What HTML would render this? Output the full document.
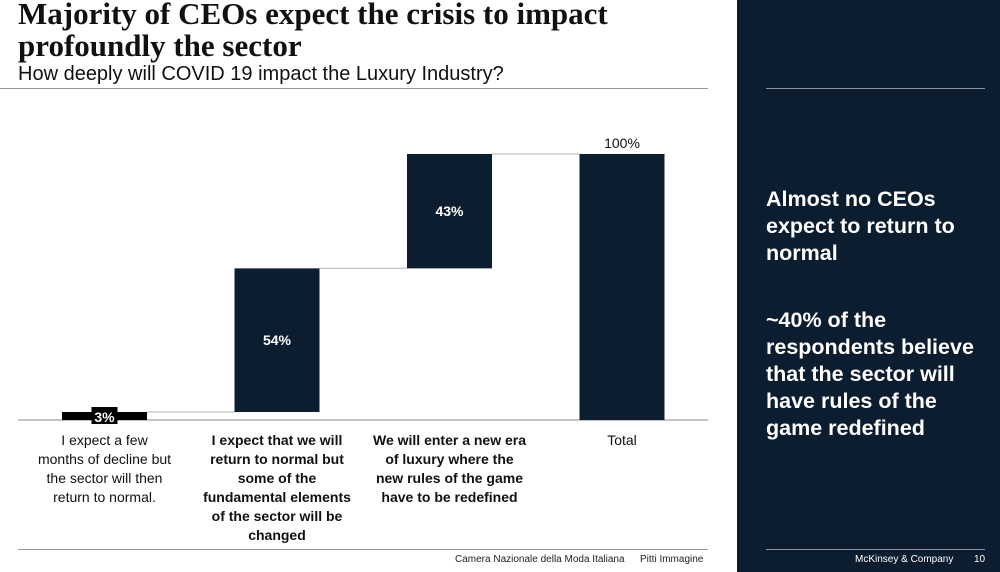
<!DOCTYPE html>
<html><head><meta charset="utf-8"><style>
body{margin:0;width:1000px;height:572px;overflow:hidden;background:#fff;font-family:"Liberation Sans",sans-serif;position:relative}
.t{position:absolute}
</style></head><body>
<div class="t" style="left:18px;top:-2px;font:bold 31px/32px 'Liberation Serif',serif;color:#111;white-space:nowrap">Majority of CEOs expect the crisis to impact<br>profoundly the sector</div>
<div class="t" style="left:18px;top:63px;font-size:20px;color:#111;white-space:nowrap">How deeply will COVID 19 impact the Luxury Industry?</div>
<div class="t" style="left:0;top:88px;width:708px;height:1px;background:#999"></div>
<svg class="t" style="left:0;top:0" width="737" height="572" id="chart"></svg>
<div class="t" style="left:18px;top:549px;width:690px;height:1px;background:#999"></div>
<div class="t" style="left:455px;top:554px;font-size:10px;color:#222">Camera Nazionale della Moda Italiana</div>
<div class="t" style="left:640px;top:554px;font-size:10px;color:#222">Pitti Immagine</div>
<div class="t" style="left:737px;top:0;width:263px;height:572px;background:#0c1d2f">
<div class="t" style="left:29px;top:88px;width:219px;height:1px;background:#8a93a0"></div>
<div class="t" style="left:29px;top:186px;width:212px;font:bold 21.5px/27px 'Liberation Sans',sans-serif;color:#fff">Almost no CEOs expect to return to normal</div>
<div class="t" style="left:29px;top:307px;width:218px;font:bold 21.5px/27px 'Liberation Sans',sans-serif;color:#fff">~40% of the respondents believe that the sector will have rules of the game redefined</div>
<div class="t" style="left:29px;top:549px;width:219px;height:1px;background:#8a93a0"></div>
<div class="t" style="left:118px;top:554px;font-size:10px;color:#fff">McKinsey &amp; Company</div>
<div class="t" style="left:237px;top:554px;font-size:10px;color:#fff">10</div>
</div>
<script>
const categories=["I expect a few months of decline but the sector will then return to normal.","I expect that we will return to normal but some of the fundamental elements of the sector will be changed","We will enter a new era of luxury where the new rules of the game have to be redefined","Total"];
const catLines=[["I expect a few","months of decline but","the sector will then","return to normal."],["I expect that we will","return to normal but","some of the","fundamental elements","of the sector will be","changed"],["We will enter a new era","of luxury where the","new rules of the game","have to be redefined"],["Total"]];
const values=[3,54,43,100];
const labels=["3%","54%","43%","100%"];
const isTotal=[false,false,false,true];
const boldCat=[false,true,true,false];
const svg=document.getElementById('chart');
const NS="http://www.w3.org/2000/svg";
const base=420, scale=266/100;
const y=v=>base-v*scale;
const xc=i=>104.5+i*172.5;
const bw=85;
function mk(t,a){const e=document.createElementNS(NS,t);for(const k in a)e.setAttribute(k,a[k]);svg.appendChild(e);return e;}
const ax=mk('line',{x1:18,x2:708,y1:base,y2:base,stroke:'#888','stroke-width':1});


let cum=0;
values.forEach((v,i)=>{
  let lo=isTotal[i]?0:cum, hi=isTotal[i]?v:cum+v;
  if(!isTotal[i])cum+=v;
  const r=mk('rect',{x:xc(i)-bw/2,y:y(hi),width:bw,height:y(lo)-y(hi),fill:i==0?'#000':'#0c1d2f'});
  
  
  if(i<values.length-1){
    const c=mk('line',{x1:xc(i)+bw/2,x2:xc(i+1)-bw/2,y1:y(hi),y2:y(hi),stroke:'#ccc','stroke-width':1.5});
    
    
  }
  let ly, fill='#fff', weight='bold';
  if(isTotal[i]){ly=y(hi)-6;fill='#111';weight='normal';}
  else if(i==0){ly=y(hi)+10;
    const bg=mk('rect',{x:xc(i)-13,y:y(hi)-5,width:26,height:17,fill:'#000'});
    
    }
  else ly=(y(hi)+y(lo))/2+5;
  const t=mk('text',{x:xc(i),y:ly,'text-anchor':'middle','font-size':14,'font-weight':weight,fill:fill,'font-family':'Liberation Sans, sans-serif'});
  t.textContent=labels[i];
  
  
  catLines[i].forEach((ln,j)=>{
    const ct=mk('text',{x:xc(i),y:445+j*19,'text-anchor':'middle','font-size':14,'font-weight':boldCat[i]?'bold':'normal',fill:'#111','font-family':'Liberation Sans, sans-serif'});
    ct.textContent=ln;
    
    
  });
});
</script>
</body></html>
